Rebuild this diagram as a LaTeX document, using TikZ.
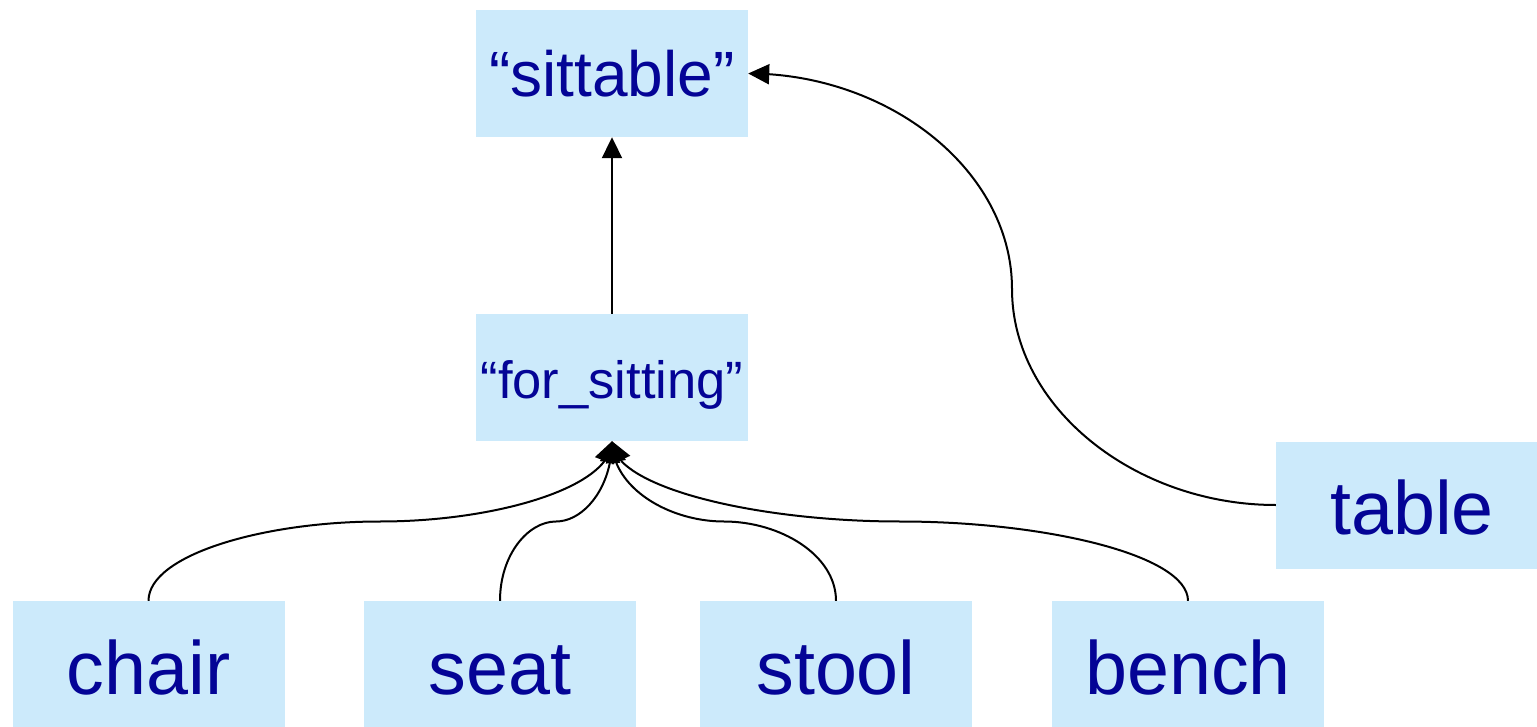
\documentclass[tikz,border=0pt]{standalone}
\usepackage{fontspec}
\setmainfont{Liberation Sans}
\usetikzlibrary{arrows.meta,bending}
\definecolor{boxfill}{RGB}{204,234,251}
\definecolor{boxtext}{RGB}{4,4,150}
\begin{document}
\begin{tikzpicture}[x=1pt,y=-1pt,
  box/.style={fill=boxfill,text=boxtext,inner sep=0pt,minimum width=272pt,minimum height=127pt,text depth=0pt},
  big/.style={box,font=\fontsize{75.5}{80}\selectfont,text height=59pt},
  mid/.style={box,font=\fontsize{64}{70}\selectfont,text height=47pt},
  small/.style={box,font=\fontsize{52.5}{58}\selectfont,text height=41pt},
  conn/.style={line width=2pt,-{Triangle[length=21pt,width=20pt,flex]}}]
\useasboundingbox (0,0) rectangle (1537,727);
\clip (0,0) rectangle (1537,727);
\node[mid]   (sit)   at (612,73.5)  {“sittable”};
\node[small] (fs)    at (612,377.5) {“for\_sitting”};
\node[big]   (table) at (1412,505)  {table};
\node[big]   (chair) at (148.5,664.5) {chair};
\node[big]   (seat)  at (500,664.5) {seat};
\node[big]   (stool) at (836,664.5) {stool};
\node[big]   (bench) at (1188,664.5) {bench};
\coordinate (mc) at (380,521.5);
\coordinate (ms) at (556,521.5);
\coordinate (mt) at (724,521.5);
\coordinate (mb) at (900,521.5);
\coordinate (mtab) at (1012,289);
\draw[conn] (fs.north) -- (sit.south);
\draw[conn] (chair.north) .. controls +(0,-46) and +(-116,0) .. (mc) .. controls +(116,0) and +(0,46) .. (fs.south);
\draw[conn] (seat.north) .. controls +(0,-46) and +(-28,0) .. (ms) .. controls +(28,0) and +(0,46) .. (fs.south);
\draw[conn] (stool.north) .. controls +(0,-46) and +(56,0) .. (mt) .. controls +(-56,0) and +(0,46) .. (fs.south);
\draw[conn] (bench.north) .. controls +(0,-46) and +(144,0) .. (mb) .. controls +(-144,0) and +(0,46) .. (fs.south);
\draw[conn] (table.west) .. controls +(-140,0) and +(0,119) .. (mtab) .. controls +(0,-119) and +(140,0) .. (sit.east);
\end{tikzpicture}
\end{document}
